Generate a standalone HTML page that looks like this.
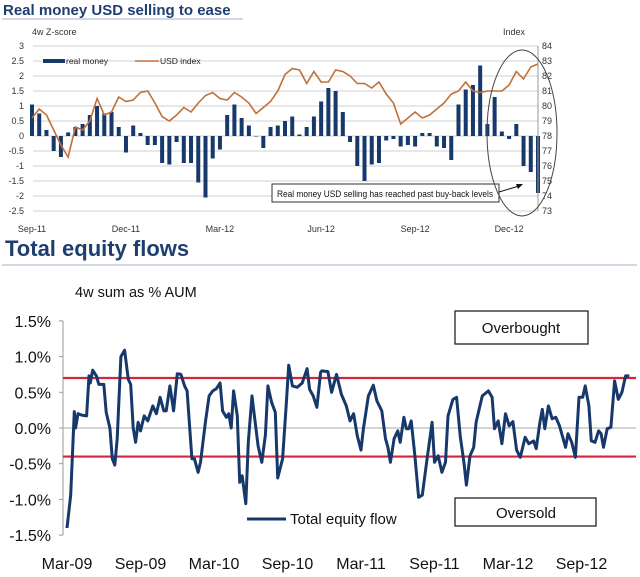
<!DOCTYPE html>
<html><head><meta charset="utf-8"><style>
html,body{margin:0;padding:0;background:#fff;}
svg{display:block;font-family:"Liberation Sans",Arial,sans-serif;}
</style></head><body>
<svg id="svg" width="640" height="577" viewBox="0 0 640 577">
  <text x="3" y="15" font-size="15" font-weight="bold" fill="#1f3e70">Real money USD selling to ease</text>
  <line x1="2" y1="19" x2="243" y2="19" stroke="#9fb4c8" stroke-width="1"/>
  <text x="32" y="35" font-size="9" fill="#333">4w Z-score</text>
  <text x="503" y="35" font-size="9" fill="#333">Index</text>
  <g id="topGrid"></g>
  <g id="topBars"></g>
  <path id="usdLine" fill="none" stroke="#c0703a" stroke-width="1.6"/>
  <g id="topAxes"></g>
  <g>
    <rect x="43" y="59" width="22" height="4" fill="#17386b"/>
    <text x="66" y="64" font-size="8.5" fill="#222">real money</text>
    <line x1="135" y1="61" x2="159" y2="61" stroke="#c0703a" stroke-width="1.6"/>
    <text x="160" y="64" font-size="8.5" fill="#222">USD index</text>
  </g>
  <rect x="272" y="184" width="227" height="18" fill="#fff" stroke="#333" stroke-width="1"/>
  <text x="277" y="197" font-size="9" textLength="216" lengthAdjust="spacingAndGlyphs" fill="#111">Real money USD selling has reached past buy-back levels</text>
  <line x1="499" y1="192" x2="519" y2="186" stroke="#111" stroke-width="1"/>
  <polygon points="523,184 516,184 518,189" fill="#111"/>
  <ellipse cx="522" cy="133" rx="35" ry="83" fill="none" stroke="#444" stroke-width="1"/>

  <text x="5" y="256" font-size="22" font-weight="bold" fill="#1f3e70">Total equity flows</text>
  <line x1="2" y1="265" x2="637" y2="265" stroke="#9fb4c8" stroke-width="1"/>
  <text x="75" y="297" font-size="14.5" fill="#111">4w sum as % AUM</text>
  <g id="botAxes"></g>
  <g id="botRef"></g>
  <path id="flowLine" fill="none" stroke="#17386b" stroke-width="3" stroke-linejoin="round"/>
  <rect x="455" y="311" width="133" height="33" fill="#fff" stroke="#222" stroke-width="1.3"/>
  <text x="521" y="333" font-size="15" text-anchor="middle" fill="#111">Overbought</text>
  <rect x="455" y="498" width="141" height="28" fill="#fff" stroke="#222" stroke-width="1.3"/>
  <text x="526" y="518" font-size="15" text-anchor="middle" fill="#111">Oversold</text>
  <line x1="247" y1="519" x2="286" y2="519" stroke="#17386b" stroke-width="3"/>
  <text x="290" y="524" font-size="15" fill="#111">Total equity flow</text>
</svg>
<script>
// ---- top chart data ----
const realMoney = [1.05,0.75,0.2,-0.5,-0.7,0.12,0.3,0.4,0.7,1.0,0.75,0.8,0.3,-0.55,0.35,0.1,-0.3,-0.3,-0.9,-0.95,-0.2,-0.9,-0.9,-1.55,-2.05,-0.75,-0.45,0.7,1.05,0.6,0.35,0.0,-0.4,0.3,0.35,0.5,0.65,0.05,0.3,0.65,1.15,1.6,1.5,0.8,-0.2,-1.0,-1.5,-0.95,-0.9,-0.15,-0.1,-0.35,-0.3,-0.35,0.1,0.1,-0.35,-0.4,-0.8,1.05,1.55,1.7,2.35,0.4,1.3,0.15,-0.1,0.4,-1.0,-1.2,-1.9];
const usdIndex = [79.2,79.8,79.4,78.4,77.4,76.6,78.6,78.4,79.0,80.5,79.4,79.6,80.6,80.3,80.4,80.9,81.0,80.2,79.3,79.0,79.4,79.9,79.6,80.2,80.7,80.9,80.5,80.4,80.9,80.6,80.2,79.5,79.9,80.3,81.0,82.1,82.5,82.4,81.5,82.3,81.6,81.6,82.4,82.3,82.0,81.5,81.5,81.2,81.6,80.8,80.2,78.8,79.2,79.6,79.2,79.4,79.8,80.2,80.8,81.0,81.6,81.0,80.9,81.0,81.0,81.0,81.4,82.3,81.8,82.6,82.8];
const zTicks = [3,2.5,2,1.5,1,0.5,0,-0.5,-1,-1.5,-2,-2.5];
const idxTicks = [84,83,82,81,80,79,78,77,76,75,74,73];
const topXLabels = ["Sep-11","Dec-11","Mar-12","Jun-12","Sep-12","Dec-12"];
const topXLabelIdx = [0,13,26,40,53,66];
// ---- bottom chart data ----
const flowMonths = [0,0.3,0.6,0.7,0.9,1.2,1.6,1.8,1.9,2.1,2.4,2.6,3.0,3.2,3.5,3.7,3.9,4.1,4.4,4.7,5.0,5.2,5.4,5.6,5.8,6.0,6.3,6.6,7.0,7.3,7.6,7.9,8.1,8.4,8.7,9.0,9.3,9.6,9.8,10.2,10.4,10.7,10.9,11.3,11.6,11.9,12.2,12.5,12.7,13.0,13.2,13.4,13.6,13.9,14.1,14.3,14.6,14.8,15.1,15.3,15.6,15.9,16.2,16.4,16.7,17.0,17.2,17.6,17.9,18.1,18.4,18.8,19.2,19.6,19.8,20.1,20.4,20.7,20.8,21.3,21.6,22.0,22.4,22.8,23.1,23.4,23.7,24.0,24.2,24.6,25.0,25.3,25.7,26.0,26.2,26.4,26.7,27.0,27.2,27.5,27.7,27.9,28.1,28.4,28.7,29.0,29.4,29.8,30.0,30.3,30.6,30.9,31.1,31.5,31.8,32.1,32.4,32.6,32.9,33.2,33.4,33.9,34.4,34.7,34.9,35.2,35.5,35.8,36.1,36.4,36.7,37.0,37.4,37.7,38.1,38.3,38.6,38.8,39.0,39.3,39.6,39.9,40.2,40.7,40.9,41.2,41.5,41.8,42.1,42.3,42.6,42.8,43.1,43.4,43.6,43.8,44.1,44.4,44.7,45.0,45.3,45.6,45.9];
const flowValues = [-1.40,-0.94,0.23,0.0,0.2,0.18,0.17,0.73,0.63,0.81,0.73,0.61,0.61,0.22,0.0,-0.43,-0.52,-0.15,1.0,1.09,0.68,0.61,0.0,-0.2,0.08,-0.04,0.17,0.1,0.31,0.2,0.43,0.24,0.24,0.59,0.24,0.76,0.75,0.59,0.52,-0.43,-0.43,-0.62,-0.48,0.08,0.45,0.52,0.55,0.63,0.24,0.15,0.2,0.0,0.52,0.17,-0.76,-0.67,-1.06,-0.2,0.45,0.17,-0.25,-0.48,-0.1,0.59,0.36,0.22,-0.7,-0.43,0.34,0.88,0.59,0.57,0.63,0.83,0.54,0.45,0.29,0.78,0.8,0.79,0.5,0.75,0.47,0.31,0.1,0.2,-0.11,-0.31,-0.01,0.45,0.6,0.38,0.24,-0.15,-0.27,-0.48,-0.15,-0.04,-0.2,0.15,-0.01,-0.01,0.1,-0.39,-0.97,-0.94,-0.43,0.08,-0.48,-0.39,-0.62,-0.48,0.17,0.4,0.43,-0.11,-0.48,-0.8,-0.39,-0.27,0.08,0.45,0.52,0.43,-0.01,0.1,-0.22,0.2,0.03,0.09,-0.31,-0.41,-0.13,-0.22,-0.18,-0.29,0.08,0.26,-0.01,0.31,0.13,0.15,0.03,-0.27,-0.08,-0.2,-0.41,0.43,0.43,0.59,0.31,-0.18,-0.2,-0.04,-0.08,-0.27,-0.01,0.01,0.66,0.4,0.5,0.73,0.73];
const flowTicks = [1.5,1.0,0.5,0.0,-0.5,-1.0,-1.5];
const flowXLabels = ["Mar-09","Sep-09","Mar-10","Sep-10","Mar-11","Sep-11","Mar-12","Sep-12"];
const flowXLabelMonths = [0,6,12,18,24,30,36,42];
const thresholds = [0.7,-0.4];

const NS = "http://www.w3.org/2000/svg";
function mk(tag, attrs, parent){const e=document.createElementNS(NS,tag);for(const k in attrs)e.setAttribute(k,attrs[k]);parent.appendChild(e);return e;}

// top scales
const tX0=32, tX1=538;
const tx = i => tX0 + i*(tX1-tX0)/(realMoney.length-1);
const zy = v => 136 - v*30;
const iy = v => 136 - (v-78)*15;
const tg = document.getElementById('topGrid');
zTicks.forEach(t=>{
  const l=mk('line',{x1:33,x2:538,y1:zy(t),y2:zy(t),stroke:'#d0d0d0','stroke-width':1},tg);
  
  
});
const ta = document.getElementById('topAxes');
zTicks.forEach(t=>{
  const e=mk('text',{x:24,y:zy(t)+3,'font-size':9,'text-anchor':'end',fill:'#333'},ta);e.textContent=String(t);
  
  
});
const ra=mk('line',{x1:538,x2:538,y1:zy(3),y2:zy(-2.5),stroke:'#999'},ta);


idxTicks.forEach(t=>{
  const e=mk('text',{x:542,y:iy(t)+3,'font-size':9,fill:'#333'},ta);e.textContent=String(t);
  
  
});
topXLabels.forEach((s,k)=>{
  const e=mk('text',{x:tx(topXLabelIdx[k]),y:232,'font-size':9,'text-anchor':'middle',fill:'#333'},ta);e.textContent=s;
  
  
});
const tb=document.getElementById('topBars');
realMoney.forEach((v,i)=>{
  const y0=zy(0), y1=zy(v);
  const r=mk('rect',{x:tx(i)-2,y:Math.min(y0,y1),width:4,height:Math.max(0.5,Math.abs(y1-y0)),fill:'#17386b'},tb);
  
  
});
document.getElementById('usdLine').setAttribute('d',usdIndex.map((v,i)=>(i?'L':'M')+tx(i).toFixed(1)+' '+iy(v).toFixed(1)).join(' '));

// bottom scales
const bx = m => 67 + m*12.25;
const by = v => 428 - v*71.4;
const ba=document.getElementById('botAxes');
const yl=mk('line',{x1:63,x2:63,y1:by(1.5),y2:by(-1.5),stroke:'#999'},ba);


const zl=mk('line',{x1:63,x2:636,y1:by(0),y2:by(0),stroke:'#aaa'},ba);


flowTicks.forEach(t=>{
  const tk=mk('line',{x1:59,x2:63,y1:by(t),y2:by(t),stroke:'#999'},ba);
  
  
  const e=mk('text',{x:51,y:by(t)+6,'font-size':16,'text-anchor':'end',fill:'#111'},ba);e.textContent=t.toFixed(1)+'%';
  
  
});
flowXLabels.forEach((s,k)=>{
  const e=mk('text',{x:bx(flowXLabelMonths[k]),y:569,'font-size':16,'text-anchor':'middle',fill:'#111'},ba);e.textContent=s;
  
  
});
const br=document.getElementById('botRef');
thresholds.forEach(t=>{
  const l=mk('line',{x1:63,x2:636,y1:by(t),y2:by(t),stroke:'#d8243a','stroke-width':2.2},br);
  
  
});
document.getElementById('flowLine').setAttribute('d',flowValues.map((v,i)=>(i?'L':'M')+bx(flowMonths[i]).toFixed(1)+' '+by(v).toFixed(1)).join(' '));
</script>
</body></html>
